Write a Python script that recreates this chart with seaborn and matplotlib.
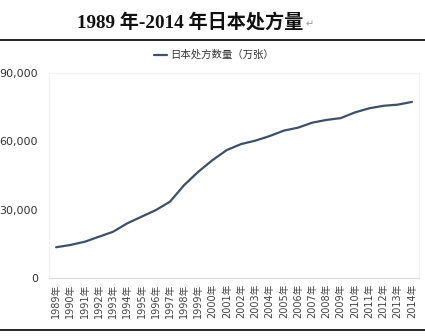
import matplotlib
matplotlib.use("Agg")
import matplotlib.pyplot as plt
import seaborn as sns
import pandas as pd
from matplotlib.ticker import FuncFormatter
from matplotlib.lines import Line2D

years = list(range(1989, 2015))
year_labels = [f"{y}年" for y in years]
values = [13500, 14500, 15900, 18100, 20300, 24000, 26900, 29800, 33500, 40800,
          46700, 51800, 56200, 58800, 60300, 62300, 64700, 66000, 68200, 69400,
          70200, 72700, 74500, 75600, 76100, 77300]
series_name = "日本处方数量（万张）"
title_main = "1989 年-2014 年日本处方量"
y_ticks = [0, 30000, 60000, 90000]

sns.set_style("white")
plt.rcParams['font.family'] = ['DejaVu Sans', 'Noto Sans CJK SC']

df = pd.DataFrame({"idx": list(range(len(years))), "value": values})

fig = plt.figure(figsize=(4.25, 3.36), dpi=100)
ax = fig.add_axes([49/425, 1-278/336, (419-49)/425, (278-73)/336])

sns.lineplot(data=df, x="idx", y="value", ax=ax, color="#3d5068", linewidth=1.6)

ax.set_xlim(-0.5, len(years)-0.5)
ax.set_ylim(0, 90000)
ax.set_yticks(y_ticks)
ax.yaxis.set_major_formatter(FuncFormatter(lambda v, p: f"{int(v):,}"))
ax.set_xticks(list(range(len(years))))
ax.set_xticklabels(year_labels, rotation=90, fontsize=7,
                   family=['DejaVu Sans', 'Noto Sans CJK SC'], color="#444444")
ax.tick_params(axis='y', labelsize=8, labelcolor="#333333", length=0, pad=8)
ax.tick_params(axis='x', length=0, pad=4)
ax.set_xlabel("")
ax.set_ylabel("")
for s in ["left", "top", "right"]:
    ax.spines[s].set_color("#f0f0f0")
    ax.spines[s].set_linewidth(0.8)
ax.spines["bottom"].set_color("#d9d9d9")
ax.spines["bottom"].set_linewidth(0.8)

# Title
fig.text(190/425, 1-22/336, title_main, ha="center", va="center",
         fontsize=13.8, fontweight="heavy",
         family=['Liberation Serif', 'Noto Sans CJK SC'], color="#111111")
fig.text(306/425, 1-24/336, "↵", ha="left", va="center", fontsize=7,
         family=['DejaVu Sans'], color="#999999")

# Rules
fig.add_artist(Line2D([0, 1], [1-40/336, 1-40/336], color="black", linewidth=1.2))
fig.add_artist(Line2D([0, 1], [1-330/336, 1-330/336], color="black", linewidth=1.2))

# Legend
leg = fig.legend(handles=[Line2D([], [], color="#3d5068", linewidth=1.6)],
                 labels=[series_name], loc="center", bbox_to_anchor=(214/425, 1-55/336),
                 frameon=False, fontsize=7.5, handlelength=1.3, handletextpad=0.3,
                 prop={'family': ['Noto Sans CJK SC'], 'size': 7.5})
for t in leg.get_texts():
    t.set_color("#333333")

fig.savefig("out.png", dpi=100)
